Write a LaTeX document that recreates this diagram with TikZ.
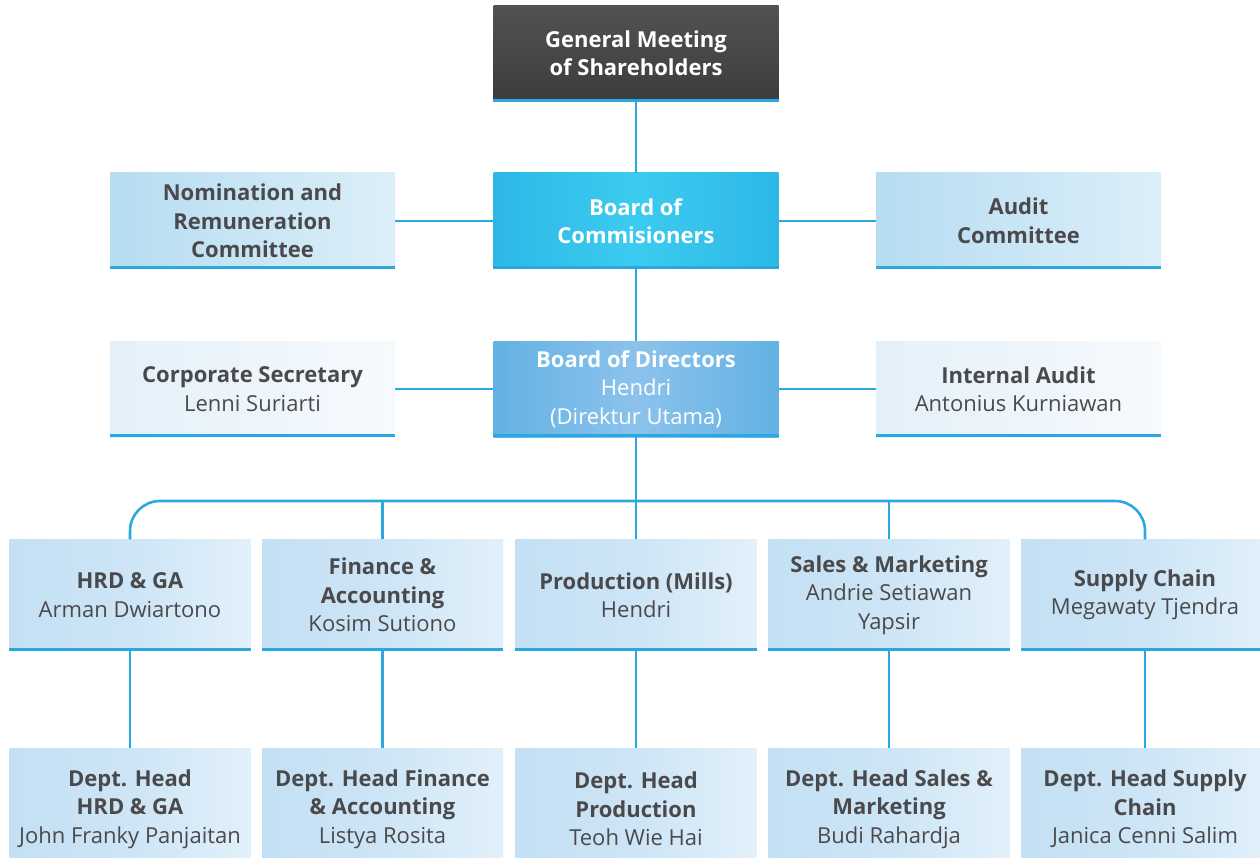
\documentclass[tikz,border=0pt]{standalone}
\usepackage{fontspec}
\setmainfont{Open Sans}
\definecolor{ln}{HTML}{2AA9E0}
\definecolor{txt}{HTML}{4A4A4C}
\definecolor{gmsA}{HTML}{525254}
\definecolor{gmsB}{HTML}{3C3C3E}
\definecolor{bocA}{HTML}{2DB8E6}
\definecolor{bocB}{HTML}{3CCBF0}
\definecolor{bodA}{HTML}{62B2E4}
\definecolor{bodB}{HTML}{8CC2EC}
\definecolor{comA}{HTML}{B6DCF1}
\definecolor{comB}{HTML}{DCEFF9}
\definecolor{secA}{HTML}{E4F0F9}
\definecolor{secB}{HTML}{F6FAFD}
\definecolor{depA}{HTML}{C4E0F4}
\definecolor{depB}{HTML}{E2F0FA}
\newcommand\boxfont{\fontsize{22}{28.5}\selectfont}
\tikzset{
  box/.style={inner sep=0pt, minimum height=96pt, minimum width=285pt, align=center, font=\boxfont, text=txt},
  rowbox/.style={box, minimum height=111pt, minimum width=241pt},
  lowbox/.style={box, minimum height=122pt, minimum width=241pt},
  gmsfill/.style={top color=gmsA, bottom color=gmsB, text=white},
  bocfill/.style={left color=bocA, right color=bocA, middle color=bocB, text=white},
  bodfill/.style={left color=bodA, right color=bodA, middle color=bodB, text=white},
  comfill/.style={left color=comA, right color=comB},
  secfill/.style={left color=secA, right color=secB},
  depfill/.style={left color=depA, right color=depB, middle color=depA!70!depB},
  conn/.style={draw=ln, line width=2.6pt},
  bline/.style={draw=ln, line width=3pt}
}
\begin{document}
\begin{tikzpicture}[x=1pt,y=-1pt]
\useasboundingbox (0,0) rectangle (1260,858);
% top levels
\node[box, gmsfill] (gms) at (636,53.5) {\textbf{General Meeting}\\\textbf{of Shareholders}};
\node[box, bocfill] (boc) at (636,221) {\textbf{Board of}\\\textbf{Commisioners}};
\node[box, comfill] (nrc) at (252.5,221) {\textbf{Nomination and}\\\textbf{Remuneration}\\\textbf{Committee}};
\node[box, comfill] (ac) at (1018.5,221) {\textbf{Audit}\\\textbf{Committee}};
\node[box, bodfill] (bod) at (636,389) {\textbf{Board of Directors}\\Hendri\\(Direktur Utama)};
\node[box, secfill] (cs) at (252.5,389) {\textbf{Corporate Secretary}\\Lenni Suriarti};
\node[box, secfill] (ia) at (1018.5,389) {\textbf{Internal Audit}\\Antonius Kurniawan};
% row 3
\node[rowbox, depfill] (hrd) at (130,595) {\textbf{HRD \& GA}\\Arman Dwiartono};
\node[rowbox, depfill] (fin) at (382.5,595) {\textbf{Finance \&}\\\textbf{Accounting}\\Kosim Sutiono};
\node[rowbox, depfill] (pro) at (636,595) {\textbf{Production (Mills)}\\Hendri};
\node[rowbox, depfill] (sal) at (889,595) {\textbf{Sales \& Marketing}\\Andrie Setiawan\\Yapsir};
\node[rowbox, depfill, minimum width=248pt] (sup) at (1145,595) {\textbf{Supply Chain}\\Megawaty Tjendra};
% row 4
\node[lowbox, depfill] (dhrd) at (130,809) {\textbf{Dept. Head}\\\textbf{HRD \& GA}\\John Franky Panjaitan};
\node[lowbox, depfill] (dfin) at (382.5,809) {\textbf{Dept. Head Finance}\\\textbf{\& Accounting}\\Listya Rosita};
\node[lowbox, depfill] (dpro) at (636,809) {\textbf{Dept. Head}\\\textbf{Production}\\Teoh Wie Hai};
\node[lowbox, depfill] (dsal) at (889,809) {\textbf{Dept. Head Sales \&}\\\textbf{Marketing}\\Budi Rahardja};
\node[lowbox, depfill, minimum width=248pt] (dsup) at (1145,809) {\textbf{Dept. Head Supply}\\\textbf{Chain}\\Janica Cenni Salim};
% bottom accent lines
\foreach \n in {gms,boc,nrc,ac,bod,cs,ia,hrd,fin,pro,sal,sup}
  \draw[bline] ([yshift=1.5pt]\n.south west) -- ([yshift=1.5pt]\n.south east);
% connectors
\coordinate (bus) at (636,501);
\draw[conn] (gms.south) -- (boc.north);
\draw[conn] (boc.south) -- (bod.north);
\draw[conn] (nrc.east) -- (boc.west);
\draw[conn] (boc.east) -- (ac.west);
\draw[conn] (cs.east) -- (bod.west);
\draw[conn] (bod.east) -- (ia.west);
\draw[conn] (bod.south) -- (bus);
\draw[conn, rounded corners=30pt] (hrd.north) |- (bus) -| (sup.north);
\draw[conn] (fin.north) -- (fin.north |- bus);
\draw[conn] (pro.north) -- (bus);
\draw[conn] (sal.north) -- (sal.north |- bus);
\draw[conn] (hrd.south) -- (dhrd.north);
\draw[conn] (fin.south) -- (dfin.north);
\draw[conn] (pro.south) -- (dpro.north);
\draw[conn] (sal.south) -- (dsal.north);
\draw[conn] (sup.south) -- (dsup.north);
\end{tikzpicture}
\end{document}
